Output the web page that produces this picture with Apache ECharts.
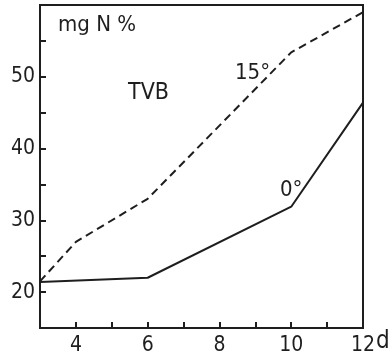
<!DOCTYPE html>
<html>
<head>
<meta charset="utf-8">
<script src="https://cdn.jsdelivr.net/npm/echarts@6/dist/echarts.min.js"></script>
<style>
  html, body { margin: 0; padding: 0; background: #ffffff; }
  #chart { width: 392px; height: 362px; }
</style>
</head>
<body>
<div id="chart"></div>
<script>
// Storage time in days
const days15 = [3, 4, 6, 10, 12];
const days0 = [3, 6, 10, 12];
// TVB content (mg N %) at 15 °C and at 0 °C
const tvb15 = [21.5, 27, 33, 53.4, 59];
const tvb0 = [21.4, 22, 31.9, 46.4];
// Labelled ticks
const xTickLabels = [4, 6, 8, 10, 12];
const yTickLabels = [20, 30, 40, 50];

const ink = '#1e1e1e';
const font = '"DejaVu Sans Condensed", "DejaVu Sans", sans-serif';

const chart = echarts.init(document.getElementById('chart'), null, { renderer: 'canvas' });

chart.setOption({
  backgroundColor: '#ffffff',
  animation: false,
  grid: {
    left: 40, right: 29, top: 5, bottom: 34,
    show: true, borderColor: ink, borderWidth: 2, backgroundColor: 'transparent'
  },
  xAxis: {
    type: 'value', min: 3, max: 12, interval: 1,
    axisLine: { lineStyle: { color: ink, width: 2 } },
    axisTick: { inside: true, length: 6, lineStyle: { color: ink, width: 2 } },
    splitLine: { show: false },
    axisLabel: {
      color: ink, fontFamily: font, fontSize: 21, margin: 7,
      formatter: v => xTickLabels.includes(v) ? String(v) : ''
    }
  },
  yAxis: {
    type: 'value', min: 15, max: 60, interval: 5,
    axisLine: { lineStyle: { color: ink, width: 2 } },
    axisTick: { inside: true, length: 6, lineStyle: { color: ink, width: 2 } },
    splitLine: { show: false },
    axisLabel: {
      color: ink, fontFamily: font, fontSize: 21, margin: 5,
      padding: [7, 0, 0, 0],
      formatter: v => yTickLabels.includes(v) ? String(v) : ''
    }
  },
  series: [
    {
      name: '15°', type: 'line', showSymbol: false,
      data: days15.map((d, i) => [d, tvb15[i]]),
      lineStyle: { color: ink, width: 2, type: [8, 5] }
    },
    {
      name: '0°', type: 'line', showSymbol: false,
      data: days0.map((d, i) => [d, tvb0[i]]),
      lineStyle: { color: ink, width: 2 }
    }
  ],
  graphic: [
    { type: 'text', left: 58, top: 14, style: { text: 'mg N %', fill: ink, font: '22px ' + font } },
    { type: 'text', left: 128, top: 82, style: { text: 'TVB', fill: ink, font: '23px ' + font } },
    { type: 'text', left: 235, top: 62, style: { text: '15°', fill: ink, font: '22px ' + font } },
    { type: 'text', left: 280, top: 179, style: { text: '0°', fill: ink, font: '22px ' + font } },
    { type: 'text', left: 376, top: 330, style: { text: 'd', fill: ink, font: '24px ' + font } }
  ]
});
</script>
</body>
</html>
